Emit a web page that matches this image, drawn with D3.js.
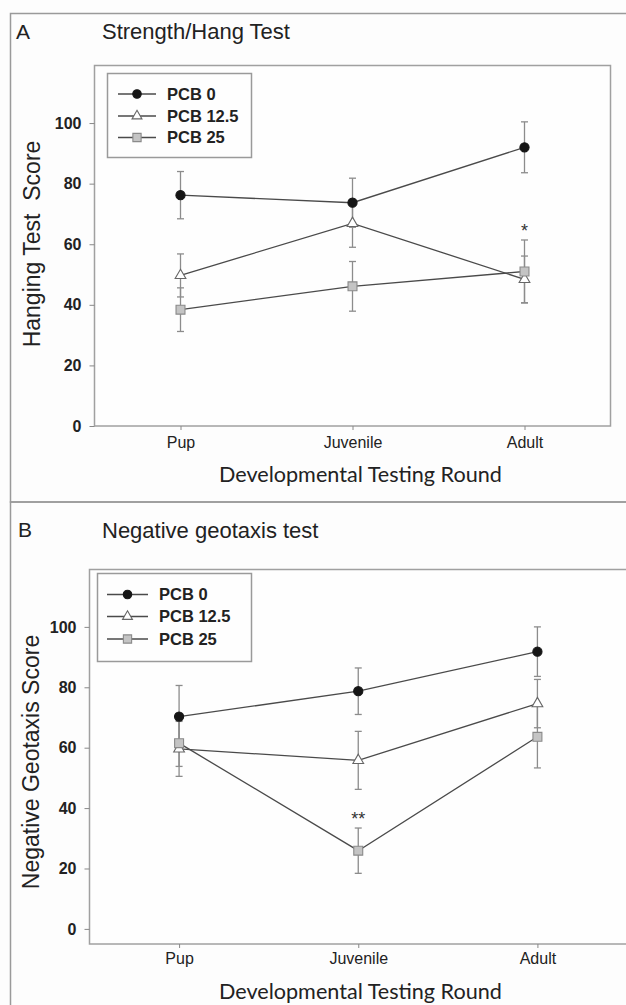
<!DOCTYPE html>
<html><head><meta charset="utf-8">
<script src="https://cdn.jsdelivr.net/npm/d3@7"></script>
<style>body{margin:0;background:#fdfdfd}svg{display:block}</style>
</head><body><script>
// ---------- data ----------
const categories = ["Pup", "Juvenile", "Adult"];
const seriesNames = ["PCB 0", "PCB 12.5", "PCB 25"];
const yTickValues = [0, 20, 40, 60, 80, 100];

// Panel A: Strength/Hang Test
const hangPCB0 = [76.2, 73.7, 92.0];
const hangPCB0Err = [7.8, 8.1, 8.4];
const hangPCB125 = [49.7, 66.9, 48.4];
const hangPCB125Err = [7.1, 7.9, 7.7];
const hangPCB25 = [38.4, 46.1, 51.0];
const hangPCB25Err = [7.2, 8.2, 10.4];
const hangSig25 = ["", "", "*"];

// Panel B: Negative geotaxis test
const geoPCB0 = [70.3, 78.7, 91.8];
const geoPCB0Err = [10.3, 7.7, 8.2];
const geoPCB125 = [59.6, 55.8, 74.6];
const geoPCB125Err = [9.1, 9.6, 8.0];
const geoPCB25 = [61.5, 25.9, 63.6];
const geoPCB25Err = [7.7, 7.5, 10.3];
const geoSig25 = ["", "**", ""];

// ---------- styles ----------
const seriesStyle = [
  {type: d3.symbolCircle, size: 66, fill: "#151515", stroke: "#151515"},
  {type: d3.symbolTriangle, size: 50, fill: "#ffffff", stroke: "#666"},
  {type: d3.symbolSquare, size: 80, fill: "#c4c4c4", stroke: "#8a8a8a"}
];
const FONT = "Liberation Sans, Arial, sans-serif";

const W = 626, H = 1005;
const svg = d3.select("body").append("svg").attr("width", W).attr("height", H)
  .style("background", "#fdfdfd");

const panels = [
  {
    letter: "A", title: "Strength/Hang Test", yTitle: "Hanging Test  Score",
    means: [hangPCB0, hangPCB125, hangPCB25], errs: [hangPCB0Err, hangPCB125Err, hangPCB25Err],
    sig: hangSig25,
    frameTop: 13.5, frameBottom: 502,
    letterPos: [16, 39], titlePos: [102, 39],
    plot: {l: 94.5, r: 610.5, t: 65.5, b: 426},
    yDomain: [0, 119],
    yTitlePos: [40, 244],
    xLabelY: 448, xTitleY: 482,
    legend: {x: 107.5, y: 73.5, w: 144, h: 84, rows: [94, 116, 137.5], l0: 118, l1: 156, m: 137, tx: 167}
  },
  {
    letter: "B", title: "Negative geotaxis test", yTitle: "Negative Geotaxis Score",
    means: [geoPCB0, geoPCB125, geoPCB25], errs: [geoPCB0Err, geoPCB125Err, geoPCB25Err],
    sig: geoSig25,
    frameTop: 502, frameBottom: 1010,
    letterPos: [18, 537], titlePos: [102, 538],
    plot: {l: 89.5, r: 627, t: 569.5, b: 944},
    yDomain: [-5, 119],
    yTitlePos: [39, 762],
    xLabelY: 964, xTitleY: 999,
    legend: {x: 97.5, y: 573.5, w: 154, h: 88, rows: [594.5, 616.5, 639], l0: 107, l1: 148, m: 127.5, tx: 159}
  }
];

panels.forEach(drawPanel);

function drawPanel(p) {
  const g = svg.append("g");
  // outer panel frame
  g.append("rect").attr("x", 10.5).attr("y", p.frameTop)
    .attr("width", 640).attr("height", p.frameBottom - p.frameTop)
    .attr("fill", "none").attr("stroke", "#9a9a9a").attr("stroke-width", 1.5);

  g.append("text").attr("x", p.letterPos[0]).attr("y", p.letterPos[1])
    .attr("font-family", FONT).attr("font-size", 21)
    .attr("fill", "#222").text(p.letter);
  g.append("text").attr("x", p.titlePos[0]).attr("y", p.titlePos[1])
    .attr("font-family", FONT).attr("font-size", 22)
    .attr("fill", "#222").text(p.title);

  const x = d3.scalePoint().domain(categories).range([p.plot.l, p.plot.r]).padding(0.5);
  const y = d3.scaleLinear().domain(p.yDomain).range([p.plot.b, p.plot.t]);

  // plot frame
  g.append("rect").attr("x", p.plot.l).attr("y", p.plot.t)
    .attr("width", p.plot.r - p.plot.l).attr("height", p.plot.b - p.plot.t)
    .attr("fill", "#fefefe").attr("stroke", "#a0a0a0").attr("stroke-width", 1.5);

  // y axis
  const ya = g.append("g").attr("transform", `translate(${p.plot.l},0)`)
    .call(d3.axisLeft(y).tickValues(yTickValues).tickSize(5).tickPadding(8).tickFormat(d3.format("d")));
  ya.select(".domain").remove();
  ya.selectAll(".tick line").attr("stroke", "#888").attr("stroke-width", 1);
  ya.selectAll(".tick text").attr("font-family", FONT)
    .attr("font-size", 16).attr("font-weight", "bold").attr("fill", "#222");

  // x axis
  const xa = g.append("g").attr("transform", `translate(0,${p.plot.b})`)
    .call(d3.axisBottom(x).tickSize(4).tickPadding(6));
  xa.select(".domain").remove();
  xa.selectAll(".tick line").attr("stroke", "#888").attr("stroke-width", 1);
  xa.selectAll(".tick text").attr("y", p.xLabelY - p.plot.b).attr("dy", 0)
    .attr("font-family", FONT)
    .attr("font-size", 16).attr("fill", "#222");

  // axis titles
  g.append("text").attr("transform", `translate(${p.yTitlePos[0]},${p.yTitlePos[1]}) rotate(-90)`)
    .attr("text-anchor", "middle").style("white-space", "pre")
    .attr("font-family", FONT).attr("font-size", 23)
    .attr("fill", "#222").text(p.yTitle);
  g.append("text").attr("x", 219).attr("y", p.xTitleY)
    .attr("font-family", "Lato, Open Sans, sans-serif").attr("font-size", 21.6)
    .attr("fill", "#222").text("Developmental Testing Round");

  const line = d3.line().x((d, i) => x(categories[i])).y(d => y(d));

  // lines
  p.means.forEach((m) => {
    g.append("path").attr("d", line(m)).attr("fill", "none")
      .attr("stroke", "#4a4a4a").attr("stroke-width", 1.3);
  });

  // error bars
  p.means.forEach((m, si) => {
    const e = p.errs[si];
    const eb = g.append("g").attr("stroke", "#8c8c8c").attr("stroke-width", 1.3);
    m.forEach((v, i) => {
      const cx = x(categories[i]);
      eb.append("line").attr("x1", cx).attr("x2", cx).attr("y1", y(v - e[i])).attr("y2", y(v + e[i]));
      [v - e[i], v + e[i]].forEach(t => {
        eb.append("line").attr("x1", cx - 3.5).attr("x2", cx + 3.5).attr("y1", y(t)).attr("y2", y(t));
      });
    });
  });
  // markers
  p.means.forEach((m, si) => {
    const st = seriesStyle[si];
    const sym = d3.symbol().type(st.type).size(st.size);
    m.forEach((v, i) => {
      g.append("path").attr("d", sym())
        .attr("transform", `translate(${x(categories[i])},${y(v)})`)
        .attr("fill", st.fill).attr("stroke", st.stroke).attr("stroke-width", 1.1);
    });
  });

  // significance markers (above PCB 25 error bar)
  const m25 = p.means[2], e25 = p.errs[2];
  p.sig.forEach((s, i) => {
    if (!s) return;
    g.append("text").attr("x", x(categories[i])).attr("y", y(m25[i] + e25[i]) - 3)
      .attr("text-anchor", "middle").attr("font-family", FONT)
      .attr("font-size", 18).attr("fill", "#333").text(s);
  });

  // legend
  const L = p.legend;
  g.append("rect").attr("x", L.x).attr("y", L.y).attr("width", L.w).attr("height", L.h)
    .attr("fill", "#fefefe").attr("stroke", "#9a9a9a").attr("stroke-width", 1.5);
  seriesNames.forEach((name, si) => {
    const st = seriesStyle[si];
    const ry = L.rows[si];
    g.append("line").attr("x1", L.l0).attr("x2", L.l1).attr("y1", ry).attr("y2", ry)
      .attr("stroke", "#4a4a4a").attr("stroke-width", 1.3);
    g.append("path").attr("d", d3.symbol().type(st.type).size(st.size * 0.85)())
      .attr("transform", `translate(${L.m},${ry})`)
      .attr("fill", st.fill).attr("stroke", st.stroke).attr("stroke-width", 1.1);
    g.append("text").attr("x", L.tx).attr("y", ry).attr("dy", "0.36em")
      .attr("font-family", FONT).attr("font-size", 16.5)
      .attr("font-weight", "bold").attr("fill", "#222").text(name);
  });
}
</script></body></html>
